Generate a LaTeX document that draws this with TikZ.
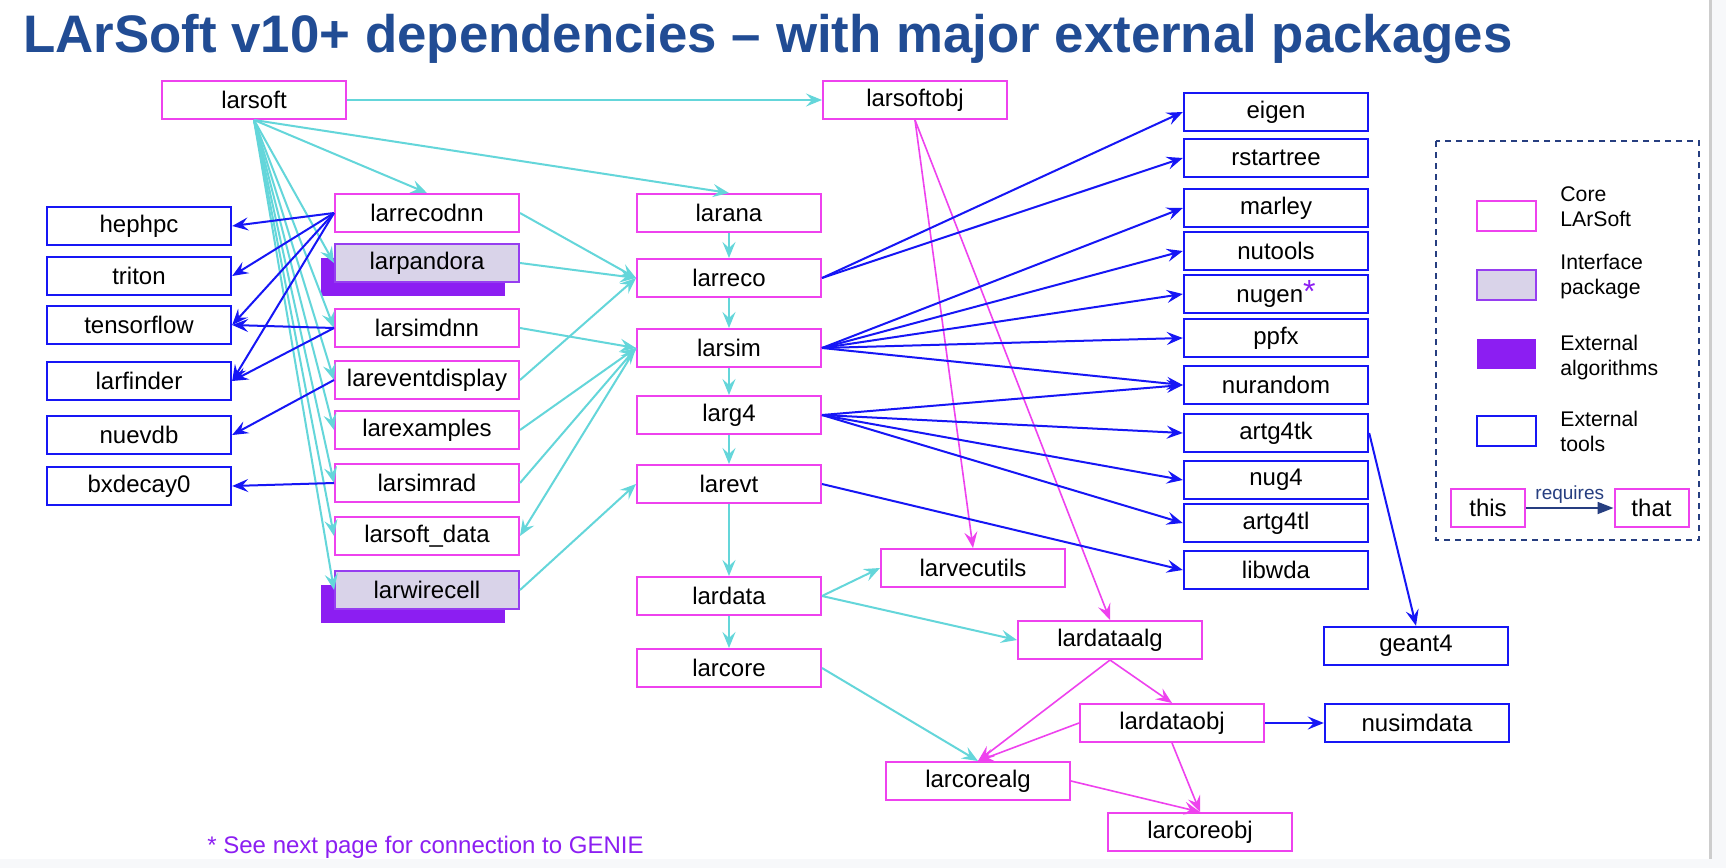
\documentclass[tikz,border=0pt]{standalone}
\usepackage{fontspec}
\setmainfont{Liberation Sans}
\usepackage{tikz}
\usetikzlibrary{arrows.meta,positioning,shadows}

\definecolor{corepink}{RGB}{238,66,238}
\definecolor{toolblue}{RGB}{22,22,245}
\definecolor{reqcyan}{RGB}{100,214,218}
\definecolor{ifacefill}{RGB}{217,211,233}
\definecolor{ifaceline}{RGB}{150,62,240}
\definecolor{algpurple}{RGB}{140,30,242}
\definecolor{keynavy}{RGB}{38,62,128}
\definecolor{titleblue}{RGB}{33,76,148}
\definecolor{pagegrey}{RGB}{247,248,250}
\definecolor{edgegrey}{RGB}{205,205,205}

\begin{document}
\begin{tikzpicture}[
   x=0.5pt, y=-0.5pt, on grid,
   every node/.style={font=\fontsize{12pt}{14pt}\selectfont},
   pkg/.style={rectangle, draw, line width=1pt, fill=white, inner sep=2pt,
               minimum width=92pt, minimum height=19pt},
   core/.style={pkg, draw=corepink},
   ifacebox/.style={pkg, draw=ifaceline, fill=ifacefill},
   iface/.style={ifacebox,
                 general shadow={fill=algpurple, shadow xshift=-7pt, shadow yshift=-7pt}},
   tool/.style={pkg, draw=toolblue, line width=1.2pt},
   arrowtip/.style={-{Stealth[length=8pt, width=6.5pt, inset=3pt]}},
   req/.style={arrowtip, reqcyan, line width=1pt},
   usetool/.style={arrowtip, toolblue, line width=1pt},
   dep/.style={arrowtip, corepink, line width=0.8pt},
   keytext/.style={font=\fontsize{10.6pt}{12.5pt}\selectfont, align=left, anchor=west, inner sep=2pt},
   heading/.style={font=\fontsize{26.4pt}{30pt}\selectfont\bfseries, text=titleblue, inner sep=0pt},
   footline/.style={text=algpurple, inner sep=0pt}
]
% page
\useasboundingbox (0,0) rectangle (1726,868);
\fill[white] (0,0) rectangle (1726,868);
\fill[pagegrey] (1711,0) rectangle (1726,868);
\fill[pagegrey] (0,859) rectangle (1726,868);
\draw[edgegrey, line width=1.5pt] (1710,0) -- (1710,859);

\node[heading, anchor=base west] (title) at (23,52)
     {LArSoft v10+ dependencies – with major external packages};

% Top level
\node[core] (larsoft) at (254,100) {larsoft};
\node[core] (larsoftobj) at (915,100) {larsoftobj};

% External tools, left
\node[tool] (hephpc) at (139,226) {hephpc};
\node[tool, below=25pt of hephpc] (triton) {triton};
\node[tool, below=24.5pt of triton] (tensorflow) {tensorflow};
\node[tool, below=28pt of tensorflow] (larfinder) {larfinder};
\node[tool, below=27pt of larfinder] (nuevdb) {nuevdb};
\node[tool, below=25.5pt of nuevdb] (bxdecay0) {bxdecay0};

% Experiment-facing packages
\node[core] (larrecodnn) at (427,213) {larrecodnn};
\node[iface, below=25pt of larrecodnn] (larpandora) {larpandora};
\node[core, below=32.5pt of larpandora] (larsimdnn) {larsimdnn};
\node[core, below=26pt of larsimdnn] (lareventdisplay) {lareventdisplay};
\node[core, below=25pt of lareventdisplay] (larexamples) {larexamples};
\node[core, below=26.5pt of larexamples] (larsimrad) {larsimrad};
\node[core, below=26.5pt of larsimrad] (larsoftdata) {larsoft\_data};
\node[iface, below=27pt of larsoftdata] (larwirecell) {larwirecell};

% Core chain
\node[core] (larana) at (729,213) {larana};
\node[core, below=32.5pt of larana] (larreco) {larreco};
\node[core, below=35pt of larreco] (larsim) {larsim};
\node[core, below=33.5pt of larsim] (larg4) {larg4};
\node[core, below=34.5pt of larg4] (larevt) {larevt};
\node[core, below=56pt of larevt] (lardata) {lardata};
\node[core, below=36pt of lardata] (larcore) {larcore};

% Lower core
\node[core] (larvecutils) at (973,568) {larvecutils};
\node[core] (lardataalg) at (1110,640) {lardataalg};
\node[core] (lardataobj) at (1172,723) {lardataobj};
\node[core] (larcorealg) at (978,781) {larcorealg};
\node[core] (larcoreobj) at (1200,832) {larcoreobj};

% External tools, right
\node[tool] (eigen) at (1276,112) {eigen};
\node[tool, below=23pt of eigen] (rstartree) {rstartree};
\node[tool, below=25pt of rstartree] (marley) {marley};
\node[tool, below=21.5pt of marley] (nutools) {nutools};
\node[tool, below=21.5pt of nutools] (nugen)
     {nugen\textcolor{algpurple}{\fontsize{16pt}{16pt}\selectfont *}};
\node[tool, below=22pt of nugen] (ppfx) {ppfx};
\node[tool, below=23.5pt of ppfx] (nurandom) {nurandom};
\node[tool, below=24pt of nurandom] (artg4tk) {artg4tk};
\node[tool, below=23.5pt of artg4tk] (nug4) {nug4};
\node[tool, below=21.5pt of nug4] (artg4tl) {artg4tl};
\node[tool, below=23.5pt of artg4tl] (libwda) {libwda};
\node[tool] (geant4) at (1416,646) {geant4};
\node[tool, right=122.5pt of lardataobj] (nusimdata) {nusimdata};

% larsoft requires
\draw[req] (larsoft) -- (larsoftobj);
\draw[req] (larsoft.south) -- (larrecodnn.north);
\draw[req] (larsoft.south) -- (larana.north);
\draw[req] (larsoft.south) -- (larpandora.west);
\draw[req] (larsoft.south) -- (larsimdnn.west);
\draw[req] (larsoft.south) -- (lareventdisplay.west);
\draw[req] (larsoft.south) -- (larexamples.west);
\draw[req] (larsoft.south) -- (larsimrad.west);
\draw[req] (larsoft.south) -- (larsoftdata.west);
\draw[req] (larsoft.south) -- (larwirecell.west);

% into the core chain
\draw[req] (larrecodnn.east) -- (larreco.west);
\draw[req] (larpandora.east) -- (larreco.west);
\draw[req] (lareventdisplay.east) -- (larreco.west);
\draw[req] (larsimdnn.east) -- (larsim.west);
\draw[req] (larexamples.east) -- (larsim.west);
\draw[req] (larsimrad.east) -- (larsim.west);
\draw[req] (larsim.west) -- (larsoftdata.east);
\draw[req] (larwirecell.east) -- (larevt.west);

\draw[req] (larana) -- (larreco);
\draw[req] (larreco) -- (larsim);
\draw[req] (larsim) -- (larg4);
\draw[req] (larg4) -- (larevt);
\draw[req] (larevt) -- (lardata);
\draw[req] (lardata) -- (larcore);
\draw[req] (lardata.east) -- (larvecutils.west);
\draw[req] (lardata.east) -- (lardataalg.west);
\draw[req] (larcore.east) -- (larcorealg.north);

% lower core
\draw[dep] (larsoftobj.south) -- (larvecutils.north);
\draw[dep] (larsoftobj.south) -- (lardataalg.north);
\draw[dep] (lardataalg.south) -- (larcorealg.north);
\draw[dep] (lardataalg.south) -- (lardataobj.north);
\draw[dep] (lardataobj.west) -- (larcorealg.north);
\draw[dep] (lardataobj.south) -- (larcoreobj.north);
\draw[dep] (larcorealg.east) -- (larcoreobj.north);

% external tools
\draw[usetool] (larrecodnn.west) -- (hephpc.east);
\draw[usetool] (larrecodnn.west) -- (triton.east);
\draw[usetool] (larrecodnn.west) -- (tensorflow.east);
\draw[usetool] (larrecodnn.west) -- (larfinder.east);
\draw[usetool] (larsimdnn.west) -- (tensorflow.east);
\draw[usetool] (larsimdnn.west) -- (larfinder.east);
\draw[usetool] (lareventdisplay.west) -- (nuevdb.east);
\draw[usetool] (larsimrad.west) -- (bxdecay0.east);

\draw[usetool] (larreco.east) -- (eigen.west);
\draw[usetool] (larreco.east) -- (rstartree.west);
\draw[usetool] (larsim.east) -- (marley.west);
\draw[usetool] (larsim.east) -- (nutools.west);
\draw[usetool] (larsim.east) -- (nugen.west);
\draw[usetool] (larsim.east) -- (ppfx.west);
\draw[usetool] (larsim.east) -- (nurandom.west);
\draw[usetool] (larg4.east) -- (nurandom.west);
\draw[usetool] (larg4.east) -- (artg4tk.west);
\draw[usetool] (larg4.east) -- (nug4.west);
\draw[usetool] (larg4.east) -- (artg4tl.west);
\draw[usetool] (larevt.east) -- (libwda.west);
\draw[usetool] (artg4tk.east) -- (geant4.north);
\draw[usetool] (lardataobj) -- (nusimdata);

% Legend
\draw[keynavy, line width=0.9pt, dash pattern=on 3pt off 2.5pt] (1436,141) rectangle (1699,540);
\node[core, minimum width=29.5pt, minimum height=15pt] (keycore) at (1506.5,216) {};
\node[ifacebox, minimum width=29.5pt, minimum height=15pt] (keyiface) at (1506.5,285) {};
\node[rectangle, fill=algpurple, minimum width=29.5pt, minimum height=15pt] (keyalg) at (1506.5,354) {};
\node[tool, minimum width=29.5pt, minimum height=15pt] (keytool) at (1506.5,431) {};
\node[keytext] (keycoretxt) at (1556,206.5) {Core\\LArSoft};
\node[keytext] (keyifacetxt) at (1556,277) {Interface\\package};
\node[keytext] (keyalgtxt) at (1556,357.5) {External\\algorithms};
\node[keytext] (keytooltxt) at (1556,431) {External\\tools};
\node[core, minimum width=37pt] (keythis) at (1488,508) {this};
\node[core, minimum width=37pt] (keythat) at (1651.5,508) {that};
\draw[-{Triangle[length=8pt, width=6pt]}, keynavy, line width=0.9pt] (keythis) --
     node[above, font=\fontsize{9.5pt}{11pt}\selectfont, inner sep=2pt] (keyreq) {requires} (keythat);

\node[footline, anchor=base west] (genie) at (207,853) {* See next page for connection to GENIE};
\end{tikzpicture}
\end{document}
